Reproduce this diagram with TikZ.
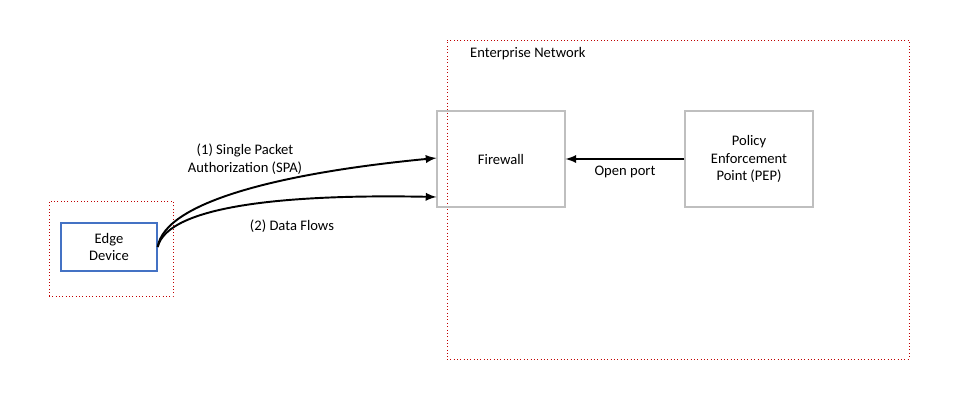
\documentclass[tikz,border=0pt]{standalone}
\usepackage{fontspec}
\setmainfont{Carlito}
\usetikzlibrary{positioning,arrows}

\definecolor{zoneRed}{HTML}{C00000}
\definecolor{boxGray}{HTML}{BFBFBF}
\definecolor{devBlue}{HTML}{4472C4}

\begin{document}
\begin{tikzpicture}[
		x=0.02cm, y=-0.02cm,
		every node/.style={font=\fontsize{8.3}{10}\selectfont, text=black},
		zone/.style={rectangle, draw=zoneRed, line width=0.5pt, dash pattern=on 0.5pt off 1.4pt},
		box/.style={rectangle, draw=boxGray, line width=0.6pt, text centered, align=center,
			minimum width=2.56cm, minimum height=1.92cm},
		device/.style={rectangle, draw=devBlue, line width=0.8pt, text centered, align=center,
			minimum width=1.92cm, minimum height=0.96cm},
		flow/.style={-latex, line width=1.1pt}
]
\useasboundingbox (0,0) rectangle (953,409);

% zones
\node [zone, minimum width=2.48cm, minimum height=1.9cm] (EdgeZone) at (111,248.5) {};
\node [zone, minimum width=9.24cm, minimum height=6.38cm] (Enterprise) at (678,199.5) {};
\node [anchor=west] (EntLabel) at (464,54) {Enterprise Network};

% boxes
\node [device] (Edge) at (109,247) {Edge\\Device};
\node [box] (Firewall) at (501,159) {Firewall};
\node [box] (PEP) at (749,159) {Policy\\Enforcement\\Point (PEP)};

% connectors
\draw [flow] (PEP.west) -- node [below] {Open port} (Firewall.east);
\draw [flow] (Edge.east) .. controls (165,200) and (290,172) .. ([yshift=0.02cm]Firewall.west);
\draw [flow] (Edge.east) .. controls (168,205) and (290,194) .. ([yshift=-0.76cm]Firewall.west);

\node [align=center] (SPA) at (245,159) {(1) Single Packet\\Authorization (SPA)};
\node (Data) at (292,226) {(2) Data Flows};

\end{tikzpicture}
\end{document}
